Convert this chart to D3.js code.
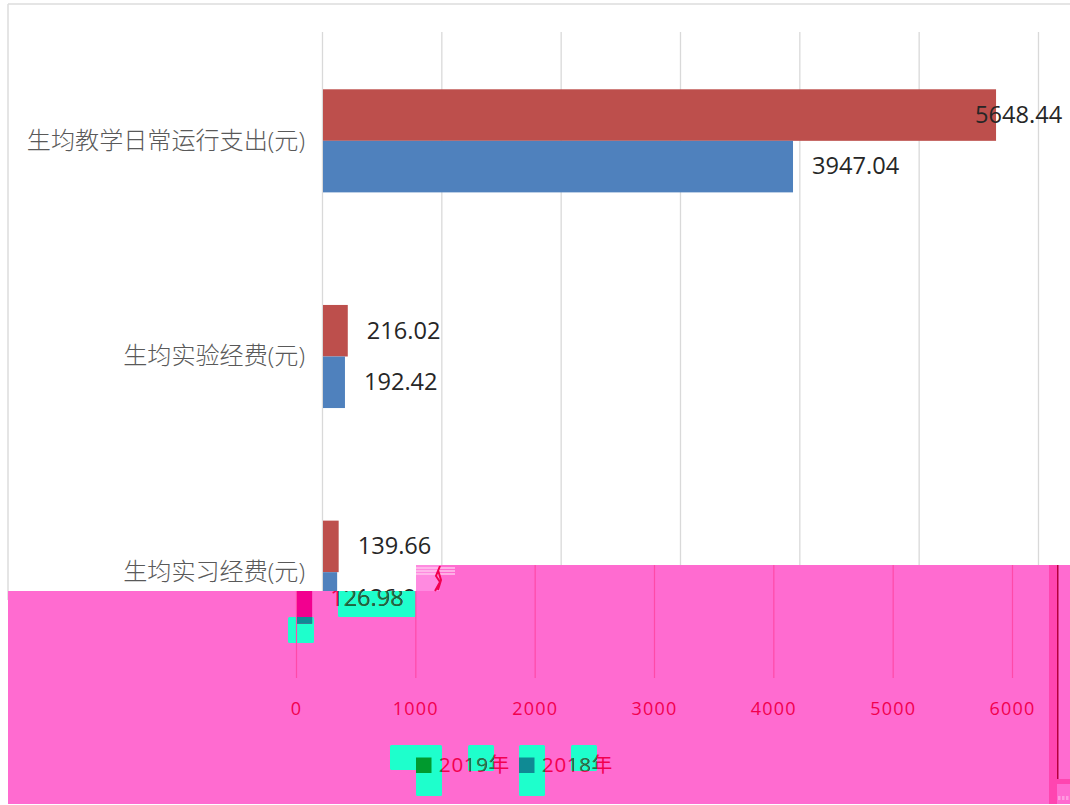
<!DOCTYPE html>
<html>
<head>
<meta charset="utf-8">
<script src="https://cdn.jsdelivr.net/npm/d3@7"></script>
<style>
  html, body { margin: 0; padding: 0; background: #fff; }
  svg { display: block; }
  text { font-family: "Open Sans", "Noto Sans CJK SC", sans-serif; }
</style>
</head>
<body>
<svg id="chart" width="1070" height="805"></svg>
<script>
// chart values
const categories = ["生均教学日常运行支出(元)", "生均实验经费(元)", "生均实习经费(元)"];
const seriesNames = ["2019年", "2018年"];
const values2019 = [5648.44, 216.02, 139.66];
const values2018 = [3947.04, 192.42, 126.98];
const tickValues = [0, 1000, 2000, 3000, 4000, 5000, 6000];

const width = 1070, height = 805;
const gridTop = 32, gridBottom = 678;
const glitchShift = -26;   // the lower part of the picture is the same chart moved left
const valueFont = 23.6;

const rows = categories.map((c, i) => ({
    category: c,
    bars: [
        {series: seriesNames[0], value: values2019[i], color: "#bd4f4c"},
        {series: seriesNames[1], value: values2018[i], color: "#4f81bd"}
    ]
}));

const svg = d3.select("#chart");
const defs = svg.append("defs");

const x = d3.scaleLinear().domain([0, 6000]).range([322, 1038]);
const xLow = d3.scaleLinear().domain([0, 6000]).range([322 + glitchShift, 1038 + glitchShift]);

const y = d3.scaleBand().domain(categories).range([33, 680]).paddingInner(0.522).paddingOuter(0.261);
const ySeries = d3.scaleBand().domain(seriesNames).range([0, y.bandwidth()]);

// frame of the original screenshot
svg.append("line").attr("x1", 8).attr("x2", width).attr("y1", 4).attr("y2", 4).attr("stroke", "#dcdcdc").attr("stroke-width", 1.5);
svg.append("line").attr("x1", 8).attr("x2", 8).attr("y1", 4).attr("y2", 600).attr("stroke", "#dcdcdc").attr("stroke-width", 1.5);

// ---- clean upper part
const grid = svg.append("g")
    .attr("transform", `translate(0,${gridBottom})`)
    .call(d3.axisBottom(x).tickValues(tickValues).tickSizeInner(-(gridBottom - gridTop)).tickSizeOuter(0).tickFormat(""));
grid.select(".domain").remove();
grid.selectAll("line").attr("stroke", "#d9d9d9").attr("stroke-width", 1.3);

svg.append("g").selectAll("text")
    .data(categories)
    .join("text")
    .attr("x", 305)
    .attr("y", d => y(d) + y.bandwidth() / 2)
    .attr("dy", "0.33em")
    .attr("text-anchor", "end")
    .attr("font-size", 24.1)
    .attr("font-weight", 300)
    .attr("fill", "#595959")
    .text(d => d);

const groups = svg.append("g").selectAll("g")
    .data(rows)
    .join("g")
    .attr("transform", d => `translate(0,${y(d.category)})`);

groups.selectAll("rect")
    .data(d => d.bars)
    .join("rect")
    .attr("x", x(0) + 1)
    .attr("y", d => ySeries(d.series))
    .attr("width", d => x(d.value) - x(0) - 1)
    .attr("height", ySeries.bandwidth())
    .attr("fill", d => d.color);

// value labels sit 19px after the bar, but stay inside the picture
const labelX = d => Math.min(x(d.value) + 19, 975);

groups.selectAll("text")
    .data(d => d.bars)
    .join("text")
    .attr("x", labelX)
    .attr("y", d => ySeries(d.series) + ySeries.bandwidth() / 2)
    .attr("dy", "0.33em")
    .attr("font-size", valueFont)
    .attr("fill", "#262626")
    .text(d => d.value.toFixed(2));

// ---- pink corrupted part
svg.append("path")
    .attr("d", `M8,591H416V565H${width}V804H8Z`)
    .attr("fill", "#ff6bd0");

// teal squares, the damage comes in cells of about 26px
const cells = [
    [338, 591, 78, 26], [288, 617, 26, 26],
    [390, 745, 52, 25], [416, 770, 26, 26], [468, 745, 26, 26],
    [519, 745, 26, 51], [571, 745, 26, 26]
];
const tealGroup = svg.append("g");
tealGroup.selectAll("rect")
    .data(cells)
    .join("rect")
    .attr("x", d => d[0]).attr("y", d => d[1])
    .attr("width", d => d[2]).attr("height", d => d[3])
    .attr("rx", 1.5)
    .attr("fill", "#1effcc");

const tealClip = defs.append("clipPath").attr("id", "tealClip");
tealClip.selectAll("rect")
    .data(cells)
    .join("rect")
    .attr("x", d => d[0]).attr("y", d => d[1])
    .attr("width", d => d[2]).attr("height", d => d[3]);

defs.append("clipPath").attr("id", "pinkClip")
    .append("path").attr("d", `M8,591H416V565H${width}V804H8Z`);

const low = svg.append("g").attr("clip-path", "url(#pinkClip)");

const lowAxis = low.append("g")
    .attr("transform", `translate(0,${gridBottom})`)
    .call(d3.axisBottom(xLow).tickValues(tickValues).tickSizeInner(-(gridBottom - 565)).tickSizeOuter(0).tickPadding(24).tickFormat(d3.format("d")));
lowAxis.select(".domain").remove();
lowAxis.selectAll("line").attr("stroke", "#ff4aa8").attr("stroke-width", 1.2);
lowAxis.selectAll("text")
    .attr("fill", "#f2004f")
    .attr("font-size", 18)
    .attr("letter-spacing", 1.2)
    .attr("font-family", "'Open Sans', sans-serif");

// the last category repeated in the band, magenta on pink and dark teal on the squares
const lastRow = rows[rows.length - 1];
const lowBar = lastRow.bars[1];
const lowBarSel = d => d
    .attr("x", xLow(0) + 1)
    .attr("y", y(lastRow.category) + ySeries(lowBar.series))
    .attr("width", xLow(lowBar.value) - xLow(0))
    .attr("height", ySeries.bandwidth());

low.append("rect").call(lowBarSel).attr("fill", "#f2008f");
low.append("g").attr("clip-path", "url(#tealClip)")
    .append("rect").call(lowBarSel).attr("fill", "#0f8a94");

const lowLabel = (parent, color) => parent.append("text")
    .attr("x", xLow(lowBar.value) + 19)
    .attr("y", y(lastRow.category) + ySeries(lowBar.series) + ySeries.bandwidth() / 2)
    .attr("dy", "0.36em")
    .attr("font-size", valueFont)
    .attr("fill", color)
    .text(lowBar.value.toFixed(2));
lowLabel(low, "#f2004f");
lowLabel(low.append("g").attr("clip-path", "url(#tealClip)"), "#07703f");

// legend
const legendX = d3.scaleOrdinal().domain(seriesNames).range([416, 519]);
const legendColor = d3.scaleOrdinal().domain(seriesNames).range(["#009a2e", "#0f8a94"]);
const legendY = 765;

const legend = svg.append("g").selectAll("g")
    .data(seriesNames)
    .join("g")
    .attr("transform", d => `translate(${legendX(d)},${legendY})`);
legend.append("rect")
    .attr("y", -7.5).attr("width", 15.5).attr("height", 15.5)
    .attr("fill", d => legendColor(d));

const legendText = (parent, color) => parent.selectAll("text")
    .data(seriesNames)
    .join("text")
    .attr("x", d => legendX(d) + 23)
    .attr("y", legendY)
    .attr("dy", "0.36em")
    .attr("font-size", 20.5)
    .attr("letter-spacing", 0.7)
    .attr("fill", color)
    .text(d => d);
legendText(svg.append("g"), "#f2004f");
legendText(svg.append("g").attr("clip-path", "url(#tealClip)"), "#07804a");

// right edge damage
svg.append("rect").attr("x", 1049).attr("y", 565).attr("width", 8).attr("height", 239).attr("fill", "#ff45b0");
svg.append("rect").attr("x", 1057).attr("y", 565).attr("width", 1.5).attr("height", 214).attr("fill", "#b5003a");
svg.append("rect").attr("x", 1057).attr("y", 779).attr("width", 13).attr("height", 5).attr("fill", "#ff45b0");
svg.append("g").selectAll("rect")
    .data([1058, 1062, 1066])
    .join("rect")
    .attr("x", d => d).attr("y", 796)
    .attr("width", 2.5).attr("height", 4)
    .attr("fill", "#ff9ae0");

// small scribble where the gridline meets the band
const noise = svg.append("g");
noise.append("rect").attr("x", 416).attr("y", 565).attr("width", 24).attr("height", 26).attr("fill", "#ff8ae0");
noise.selectAll("line")
    .data([568, 571, 574])
    .join("line")
    .attr("x1", 416).attr("x2", 455)
    .attr("y1", d => d).attr("y2", d => d)
    .attr("stroke", "#ffc4ee").attr("stroke-width", 1.4);
noise.append("path")
    .attr("d", "M440,566L436,576L440,582L435,591M438,570L441,580L438,590")
    .attr("fill", "none").attr("stroke", "#f2004f").attr("stroke-width", 2);
</script>
</body>
</html>
